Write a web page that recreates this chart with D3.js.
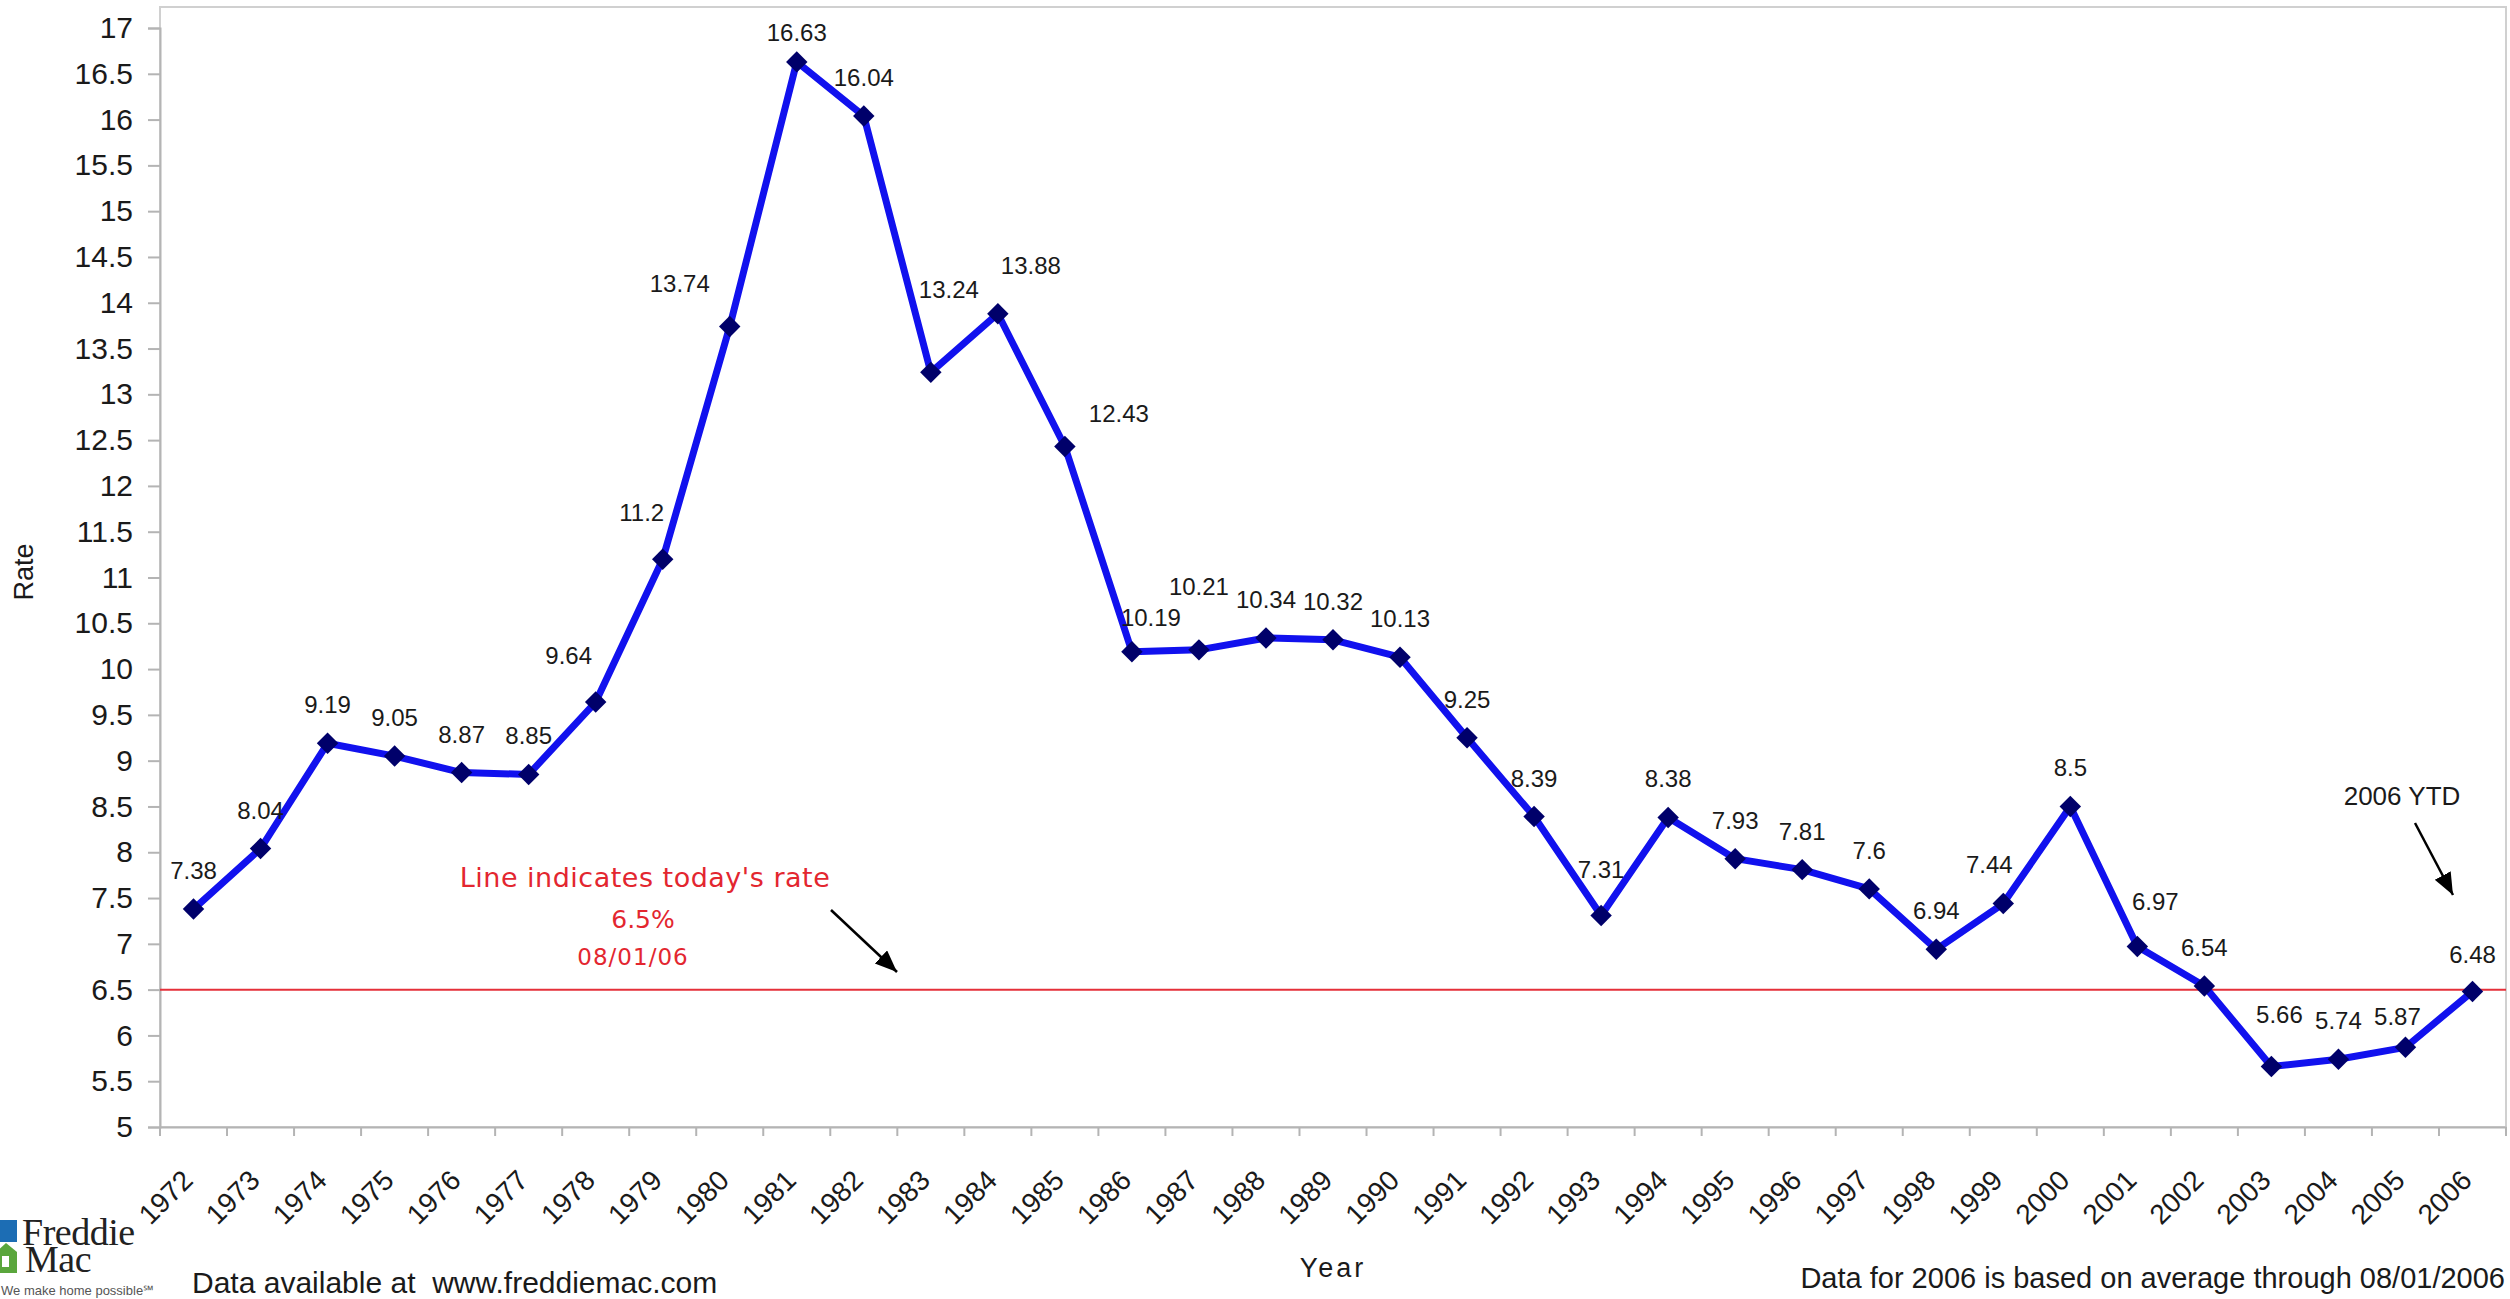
<!DOCTYPE html>
<html>
<head>
<meta charset="utf-8">
<script src="https://cdn.jsdelivr.net/npm/d3@7"></script>
<style>
  html, body { margin: 0; padding: 0; background: #fff; }
  svg { display: block; }
</style>
</head>
<body>
<svg id="chart" width="2510" height="1299" font-family="'Liberation Sans', Arial, sans-serif"></svg>
<script>
// ---------------- data ----------------
const years = ["1972","1973","1974","1975","1976","1977","1978","1979","1980","1981","1982","1983","1984","1985","1986","1987","1988","1989","1990","1991","1992","1993","1994","1995","1996","1997","1998","1999","2000","2001","2002","2003","2004","2005","2006"];
const rates = [7.38, 8.04, 9.19, 9.05, 8.87, 8.85, 9.64, 11.2, 13.74, 16.63, 16.04, 13.24, 13.88, 12.43, 10.19, 10.21, 10.34, 10.32, 10.13, 9.25, 8.39, 7.31, 8.38, 7.93, 7.81, 7.6, 6.94, 7.44, 8.5, 6.97, 6.54, 5.66, 5.74, 5.87, 6.48];
const yTicks = [5, 5.5, 6, 6.5, 7, 7.5, 8, 8.5, 9, 9.5, 10, 10.5, 11, 11.5, 12, 12.5, 13, 13.5, 14, 14.5, 15, 15.5, 16, 16.5, 17];
const todayRate = 6.5;
const todayDate = "08/01/06";

// ---------------- layout ----------------
const W = 2510, H = 1299;
const plot = { left: 160, right: 2506, top: 28, bottom: 1127, borderTop: 7 };
// label nudges (dx, dy from the default position above the marker)
const labelNudge = {
  "1978": [-27, -8], "1979": [-21, -8], "1980": [-50, -5], "1981": [0, 9],
  "1983": [18, -44], "1984": [33, -10], "1985": [54, 5], "1986": [19, 4],
  "1987": [0, -25], "1993": [0, -7], "1999": [-14, -1], "2001": [18, -7],
  "2003": [8, -14], "2005": [-8, 8], "2006": [0, 2]
};

const svg = d3.select("#chart");
svg.append("rect").attr("width", W).attr("height", H).attr("fill", "#fff");

const data = years.map((yr, i) => ({ year: yr, rate: rates[i] }));

const x = d3.scaleBand().domain(years).range([plot.left, plot.right]).padding(0);
const y = d3.scaleLinear().domain([5, 17]).range([plot.bottom, plot.top]);
const cx = d => x(d.year) + x.bandwidth() / 2;

const axisColor = "#b4b4b4";

// plot border
svg.append("rect")
  .attr("x", plot.left).attr("y", plot.borderTop)
  .attr("width", plot.right - plot.left).attr("height", plot.bottom - plot.borderTop)
  .attr("fill", "none").attr("stroke", "#d0d0d0").attr("stroke-width", 2);

// y axis
const yAxis = d3.axisLeft(y).tickValues(yTicks).tickSize(12).tickPadding(15).tickFormat(d => String(d));
const gy = svg.append("g").attr("transform", `translate(${plot.left},0)`).call(yAxis);
gy.attr("font-family", null);
gy.select(".domain").attr("stroke", axisColor).attr("stroke-width", 2);
gy.selectAll(".tick line").attr("stroke", axisColor).attr("stroke-width", 2);
gy.selectAll(".tick text")
  .attr("font-size", 30).attr("fill", "#1a1a1a");

// x axis
const xAxis = d3.axisBottom(x).tickSize(0).tickFormat("");
const gx = svg.append("g").attr("transform", `translate(0,${plot.bottom})`).call(xAxis);
gx.attr("font-family", null);
gx.select(".domain").attr("stroke", axisColor).attr("stroke-width", 2);
// ticks between categories
const boundaries = years.map(yr => x(yr)).concat([plot.right]);
gx.selectAll("line.between").data(boundaries).enter().append("line")
  .attr("class", "between")
  .attr("x1", d => d).attr("x2", d => d)
  .attr("y1", 0).attr("y2", 9)
  .attr("stroke", axisColor).attr("stroke-width", 2);
// rotated labels
svg.append("g").selectAll("text").data(years).enter().append("text")
  .attr("transform", d => `translate(${x(d) + x.bandwidth() / 2 + 1},${plot.bottom + 55}) rotate(-45)`)
  .attr("text-anchor", "end")
  .attr("font-size", 28).attr("fill", "#1a1a1a")
  .text(d => d);

// today's rate line
svg.append("line")
  .attr("x1", plot.left).attr("x2", plot.right)
  .attr("y1", y(todayRate)).attr("y2", y(todayRate))
  .attr("stroke", "#e5303a").attr("stroke-width", 2);

// series line
const line = d3.line().x(cx).y(d => y(d.rate));
svg.append("path").datum(data)
  .attr("d", line)
  .attr("fill", "none").attr("stroke", "#1111ee").attr("stroke-width", 7)
  .attr("stroke-linejoin", "round");

// markers (diamonds)
svg.append("g").selectAll("path").data(data).enter().append("path")
  .attr("transform", d => `translate(${cx(d)},${y(d.rate)}) rotate(45)`)
  .attr("d", d3.symbol().type(d3.symbolSquare).size(230)())
  .attr("fill", "#00006a");

// data labels
svg.append("g").selectAll("text").data(data).enter().append("text")
  .attr("x", d => cx(d) + (labelNudge[d.year] ? labelNudge[d.year][0] : 0))
  .attr("y", d => y(d.rate) - 30 + (labelNudge[d.year] ? labelNudge[d.year][1] : 0))
  .attr("text-anchor", "middle")
  .attr("font-size", 24).attr("fill", "#1a1a1a")
  .text(d => String(d.rate));

// axis titles
svg.append("text")
  .attr("transform", `translate(33,572) rotate(-90)`)
  .attr("text-anchor", "middle")
  .attr("font-size", 27).attr("fill", "#1a1a1a")
  .text("Rate");
svg.append("text")
  .attr("x", (plot.left + plot.right) / 2).attr("y", 1277)
  .attr("text-anchor", "middle")
  .attr("font-size", 27).attr("letter-spacing", 3).attr("fill", "#1a1a1a")
  .text("Year");

// arrow marker
const defs = svg.append("defs");
defs.append("marker")
  .attr("id", "arrow").attr("markerUnits", "userSpaceOnUse")
  .attr("markerWidth", 26).attr("markerHeight", 20)
  .attr("refX", 22).attr("refY", 9).attr("orient", "auto")
  .append("path").attr("d", "M0,0 L22,9 L0,18 Z").attr("fill", "#000");

// red annotation
const red = "#e3262f";
const ann = svg.append("g").attr("font-family", "'DejaVu Sans', Verdana, sans-serif").attr("fill", red).attr("text-anchor", "middle");
ann.append("text").attr("x", 645).attr("y", 887).attr("font-size", 27).attr("letter-spacing", 0.5).text("Line indicates today's rate");
ann.append("text").attr("x", 643).attr("y", 928).attr("font-size", 25).text(todayRate + "%");
ann.append("text").attr("x", 633).attr("y", 965).attr("font-size", 23).attr("letter-spacing", 1).text(todayDate);
svg.append("line")
  .attr("x1", 831).attr("y1", 910).attr("x2", 897).attr("y2", 972)
  .attr("stroke", "#000").attr("stroke-width", 2.5).attr("marker-end", "url(#arrow)");

// 2006 YTD annotation
svg.append("text").attr("x", 2402).attr("y", 805).attr("text-anchor", "middle")
  .attr("font-size", 26).attr("fill", "#1a1a1a").text("2006 YTD");
svg.append("line")
  .attr("x1", 2415).attr("y1", 823).attr("x2", 2453).attr("y2", 895)
  .attr("stroke", "#000").attr("stroke-width", 2.5).attr("marker-end", "url(#arrow)");

// footer texts
svg.append("text").attr("x", 192).attr("y", 1293)
  .attr("font-size", 30).attr("fill", "#1a1a1a").attr("xml:space", "preserve").style("white-space", "pre")
  .text("Data available at  www.freddiemac.com");
svg.append("text").attr("x", 2505).attr("y", 1288).attr("text-anchor", "end")
  .attr("font-size", 29).attr("fill", "#1a1a1a")
  .text("Data for 2006 is based on average through 08/01/2006");

// Freddie Mac logo
const serif = "'Liberation Serif', 'Times New Roman', serif";
const logo = svg.append("g");
logo.append("rect").attr("x", 0).attr("y", 1216).attr("width", 150).attr("height", 83).attr("fill", "#fff");
logo.append("rect").attr("x", -4).attr("y", 1220).attr("width", 21).attr("height", 22).attr("fill", "#1c6db4");
logo.append("path").attr("d", "M-4,1252 L6,1243 L17,1252 L17,1273 L-4,1273 Z").attr("fill", "#5aa63c");
logo.append("rect").attr("x", 2).attr("y", 1256).attr("width", 7).attr("height", 11).attr("fill", "#fff");
const brand = logo.append("text")
  .attr("font-family", serif).attr("font-size", 38)
  .attr("letter-spacing", -0.5).attr("fill", "#222");
brand.append("tspan").attr("x", 22).attr("y", 1245).text("Freddie");
brand.append("tspan").attr("x", 25).attr("y", 1272).text("Mac");
logo.append("text").attr("x", 1).attr("y", 1295)
  .attr("font-size", 13).attr("fill", "#555").text("We make home possible\u2120");
</script>
</body>
</html>
